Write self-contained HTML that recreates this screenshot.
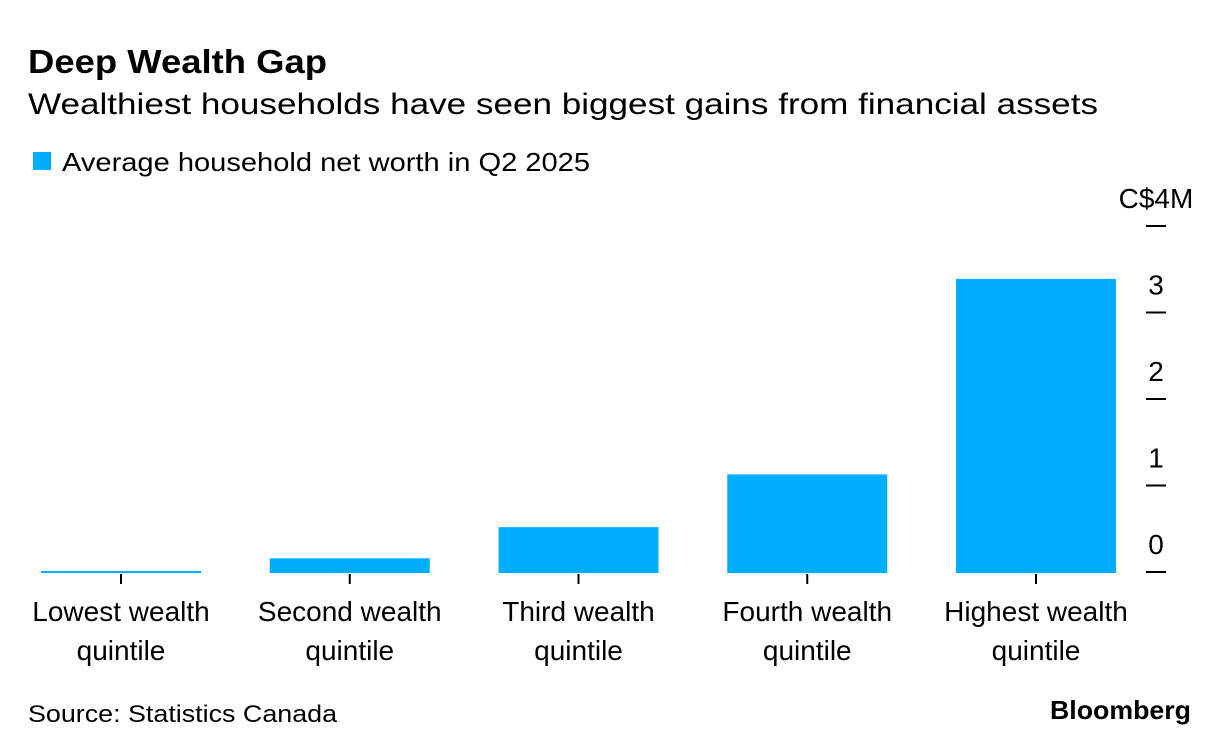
<!DOCTYPE html>
<html><head><meta charset="utf-8"><style>
body{margin:0;background:#fff;}
svg{display:block;font-family:"Liberation Sans",Arial,sans-serif;}
</style></head><body>
<svg id="chart" width="1230" height="754" viewBox="0 0 1230 754">
<text x="28" y="73" font-size="33" font-weight="bold" fill="#000" textLength="299" lengthAdjust="spacingAndGlyphs">Deep Wealth Gap</text>
<text x="28" y="114" font-size="30" fill="#000" textLength="1070" lengthAdjust="spacingAndGlyphs">Wealthiest households have seen biggest gains from financial assets</text>
<rect x="33" y="152" width="18" height="18" fill="#00aeff"/>
<text x="62" y="171" font-size="26" fill="#000" textLength="528" lengthAdjust="spacingAndGlyphs">Average household net worth in Q2 2025</text>
<g id="bars"></g><g id="yaxis"></g><g id="xaxis"></g>
<text x="28" y="722" font-size="24" fill="#000" textLength="309" lengthAdjust="spacingAndGlyphs">Source: Statistics Canada</text>
<text x="1050" y="719" font-size="26" font-weight="bold" fill="#000" textLength="141" lengthAdjust="spacingAndGlyphs">Bloomberg</text>
</svg>
<script>
const categories = [["Lowest wealth","quintile"],["Second wealth","quintile"],["Third wealth","quintile"],["Fourth wealth","quintile"],["Highest wealth","quintile"]];
const values = [0.02, 0.17, 0.53, 1.14, 3.40];
const yTicks = [0,1,2,3,4];
const yTickLabels = ["0","1","2","3","C$4M"];
const NS="http://www.w3.org/2000/svg";
const y0=572, pxPer=86.5;
const y=v=>y0-v*pxPer;
const bandStart=41, step=228.75, barW=160;
const x=i=>bandStart+i*step;
function mk(tag,attrs,parent,txt){const e=document.createElementNS(NS,tag);for(const k in attrs)e.setAttribute(k,attrs[k]);if(txt!=null)e.textContent=txt;parent.appendChild(e);return e;}
const bars=document.getElementById('bars'),ya=document.getElementById('yaxis'),xa=document.getElementById('xaxis');
values.forEach((v,i)=>{
  const h=Math.max(2,y0-y(v));
  const r=mk('rect',{x:x(i),y:y0-h+1,width:barW,height:h,fill:'#00aeff'},bars);
  
  
  const cx=x(i)+barW/2;
  const t=mk('line',{x1:cx,x2:cx,y1:574,y2:584,stroke:'#000','stroke-width':2},xa);
  
  
  categories[i].forEach((s,j)=>{
    const l=mk('text',{x:cx,y:621+j*39,'font-size':28,'text-anchor':'middle',fill:'#000'},xa,s);
    
    
  });
});
yTicks.forEach((v,i)=>{
  const t=mk('line',{x1:1146,x2:1166,y1:y(v),y2:y(v),stroke:'#000','stroke-width':2},ya);
  
  
  const l=mk('text',{x:1156,y:y(v)-18,'font-size':28,'text-anchor':'middle',fill:'#000'},ya,yTickLabels[i]);
  
  
});
</script>
</body></html>
